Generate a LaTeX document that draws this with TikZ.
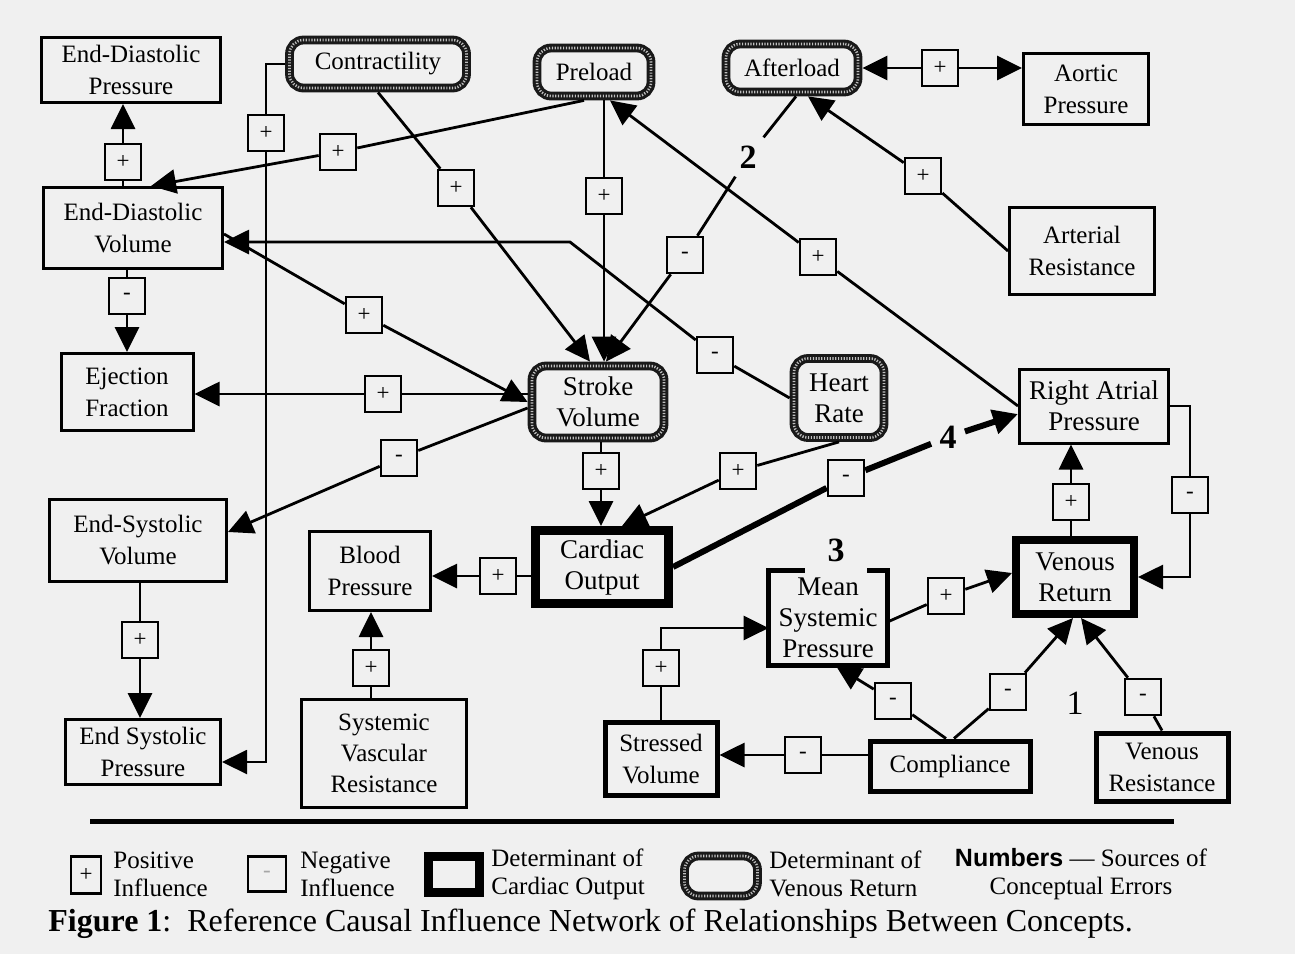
\documentclass[tikz,border=0pt]{standalone}
\usepackage{fontspec}
\setmainfont{Liberation Serif}
\setsansfont{Liberation Sans}
\usetikzlibrary{arrows.meta}

\definecolor{paper}{gray}{0.94}
\newcommand{\boxfont}{\fontsize{12.5}{16}\selectfont}
\newcommand{\palfont}{\fontsize{13.5}{15.5}\selectfont}

\tikzset{
  box/.style={draw, line width=1.5pt, align=center, inner sep=1pt, font=\boxfont},
  midbox/.style={box, line width=2.5pt},
  cobox/.style={box, line width=4.5pt, font=\palfont},
  vrbox/.style={box, rounded corners=7pt, line width=4.4pt, draw=black!90,
    postaction={draw=white!75!black, line width=1.3pt, dash pattern=on 0.6pt off 0.8pt}},
  sign/.style={draw, line width=1.3pt, fill=paper, minimum width=18pt, minimum height=18pt,
    inner sep=0pt, font=\fontsize{11.5}{11.5}\selectfont},
  link/.style={line width=1.4pt, ->},
  thinlink/.style={line width=1pt, ->},
  errlink/.style={line width=3pt, ->},
  errnum/.style={inner sep=4pt, font=\fontsize{17}{17}\selectfont\bfseries},
  legtext/.style={anchor=west, align=left, inner sep=0pt, font=\fontsize{12.5}{14}\selectfont}
}

\begin{document}
\begin{tikzpicture}[x=0.5pt, y=-0.5pt, >={Triangle[length=12.5pt,width=12pt]}]
  \fill[paper] (0,0) rectangle (1295,954);
  \useasboundingbox (0,0) rectangle (1295,954);

  % Heart side
  \node[box, minimum width=89.5pt, minimum height=32.5pt] (edp) at (131,70) {End-Diastolic\\Pressure};
  \node[box, minimum width=89.5pt, minimum height=40.5pt] (edv) at (133,228) {End-Diastolic\\Volume};
  \node[box, minimum width=66pt, minimum height=38.5pt] (ef) at (127,392) {Ejection\\Fraction};
  \node[box, minimum width=88.5pt, minimum height=41pt] (esv) at (138,540) {End-Systolic\\Volume};
  \node[box, minimum width=77.5pt, minimum height=32.5pt] (esp) at (143,752) {End Systolic\\Pressure};
  \node[box, minimum width=60.5pt, minimum height=39.5pt] (bp) at (370,571) {Blood\\Pressure};
  \node[box, minimum width=82.5pt, minimum height=54pt, font=\fontsize{12.5}{15.5}\selectfont] (svr) at (384,753) {Systemic\\Vascular\\Resistance};

  % Determinants of venous return
  \node[vrbox, minimum width=88.5pt, minimum height=24pt] (contr) at (378,64) {Contractility};
  \node[vrbox, minimum width=57pt, minimum height=24pt] (preload) at (594,72) {Preload};
  \node[vrbox, minimum width=66pt, minimum height=24pt] (aft) at (792,68) {Afterload};
  \node[vrbox, minimum width=66pt, minimum height=36pt, font=\palfont] (sv) at (598,402) {Stroke\\Volume};
  \node[vrbox, minimum width=45pt, minimum height=39.5pt, font=\palfont] (hr) at (839,398) {Heart\\Rate};

  % Arterial side
  \node[box, minimum width=62.5pt, minimum height=35.5pt] (aor) at (1086,89) {Aortic\\Pressure};
  \node[box, minimum width=72.5pt, minimum height=43.5pt] (ar) at (1082,251) {Arterial\\Resistance};
  \node[box, minimum width=74.5pt, minimum height=37pt, font=\palfont] (rap) at (1094,406) {Right Atrial\\Pressure};

  % Determinants of cardiac output
  \node[cobox, minimum width=66.5pt, minimum height=36.5pt] (co) at (602,567) {Cardiac\\Output};
  \node[cobox, line width=4pt, minimum width=59pt, minimum height=37pt] (vr) at (1075,577) {Venous\\Return};

  % Venous side
  \node[align=center, inner sep=1pt, font=\palfont, minimum width=59pt, minimum height=47.5pt] (msp) at (828,618) {Mean\\Systemic\\Pressure};
  \draw[line width=2.5pt] ([xshift=18pt]msp.north west) -- (msp.north west) -- (msp.south west)
    -- (msp.south east) -- (msp.north east) -- ([xshift=-10pt]msp.north east);
  \node[midbox, minimum width=56pt, minimum height=36.5pt] (stv) at (661,759) {Stressed\\Volume};
  \node[midbox, minimum width=80pt, minimum height=25pt] (comp) at (950,766) {Compliance};
  \node[midbox, minimum width=66pt, minimum height=34pt] (vres) at (1162,767) {Venous\\Resistance};

  % Signs
  \node[sign] (sEdvEdp) at (123,162) {+};
  \node[sign] (sEdvEf) at (127,296) {-};
  \node[sign] (sPreEdv) at (338,152) {+};
  \node[sign] (sPreSv) at (604,196) {+};
  \node[sign] (sConSv) at (456,188) {+};
  \node[sign] (sConEsp) at (266,133) {+};
  \node[sign] (sHrEdv) at (715,355) {-};
  \node[sign] (sAftSv) at (685,255) {-};
  \node[sign] (sRapPre) at (818,257) {+};
  \node[sign] (sEdvSv) at (364,315) {+};
  \node[sign] (sSvEf) at (383,394) {+};
  \node[sign] (sSvEsv) at (399,458) {-};
  \node[sign] (sSvCo) at (601,471) {+};
  \node[sign] (sHrCo) at (738,471) {+};
  \node[sign] (sCoRap) at (846,478) {-};
  \node[sign] (sAftAor) at (940,68) {+};
  \node[sign] (sArAft) at (923,176) {+};
  \node[sign] (sCoBp) at (498,576) {+};
  \node[sign] (sSvrBp) at (371,668) {+};
  \node[sign] (sEsvEsp) at (140,640) {+};
  \node[sign] (sStvMsp) at (661,668) {+};
  \node[sign] (sCompStv) at (803,755) {-};
  \node[sign] (sCompMsp) at (893,701) {-};
  \node[sign] (sCompVr) at (1008,692) {-};
  \node[sign] (sVresVr) at (1143,697) {-};
  \node[sign] (sMspVr) at (946,596) {+};
  \node[sign] (sVrRap) at (1071,502) {+};
  \node[sign] (sRapVr) at (1190,495) {-};

  % Error numbers
  \node[errnum, font=\fontsize{17}{17}\selectfont] (num1) at (1075,703) {1};
  \node[errnum] (num2) at (748,157) {2};
  \node[errnum] (num3) at (836,550) {3};
  \node[errnum] (num4) at (948,437) {4};

  % End-diastolic volume
  \draw[link] (edv.north -| sEdvEdp) -- (sEdvEdp) -- (sEdvEdp |- edp.south);
  \draw[link] (edv.south -| sEdvEf) -- (sEdvEf) -- (sEdvEf |- ef.north);
  \draw[link] ([yshift=-3pt]edv.east) -- (sEdvSv) -- (sv.west);

  % Preload and contractility
  \draw[link] ([xshift=-5pt]preload.south) -- (sPreEdv) -- ([xshift=9pt]edv.north);
  \draw[link] (preload.south -| sPreSv) -- (sPreSv) -- (sPreSv |- sv.north);
  \draw[link] (contr.south) -- (sConSv) -- ([xshift=-4pt]sv.north);
  \coordinate (espIn) at ([yshift=-5pt]esp.east);
  \draw[thinlink] (contr.west) -| (sConEsp) -- (sConEsp |- espIn) -- (espIn);

  % Heart rate
  \coordinate (hrBend) at (570,242);
  \draw[link] (hr.west) -- (sHrEdv) -- (hrBend) -- (hrBend -| edv.east);
  \draw[link] (hr.south) -- (sHrCo) -- ([xshift=10pt]co.north);

  % Afterload
  \draw[link] ([xshift=2pt]aft.south) -- (num2) -- (sAftSv) -- ([xshift=4pt]sv.north);
  \draw[link] (sAftAor) -- (aft.east);
  \draw[link] (sAftAor) -- (sAftAor -| aor.west);
  \draw[link] (ar.west) -- (sArAft) -- ([xshift=8pt]aft.south);

  % Stroke volume
  \draw[link] (sSvEf -| sv.west) -- (sSvEf) -- (sSvEf -| ef.east);
  \draw[link] ([yshift=-3pt]sv.west) -- (sSvEsv) -- ([yshift=4pt]esv.east);
  \draw[link] (sv.south -| sSvCo) -- (sSvCo) -- (sSvCo |- co.north);
  \draw[link] (esv.south -| sEsvEsp) -- (sEsvEsp) -- (sEsvEsp |- esp.north);

  % Cardiac output
  \draw[link] (sCoBp -| co.west) -- (sCoBp) -- (sCoBp -| bp.east);
  \draw[link] (svr.north -| sSvrBp) -- (sSvrBp) -- (sSvrBp |- bp.south);
  \draw[errlink] (co.east) -- (sCoRap) -- (num4) -- ([yshift=-4pt]rap.west);

  % Right atrium
  \draw[link] (rap.west) -- (sRapPre) -- ([xshift=8pt]preload.south);
  \draw[link] (vr.north -| sVrRap) -- (sVrRap) -- (sVrRap |- rap.south);
  \draw[link] (rap.east) -| (sRapVr) -- (sRapVr |- vr.east) -- (vr.east);

  % Venous side
  \coordinate (mspIn) at ([yshift=-5pt]msp.west);
  \draw[link] (stv.north -| sStvMsp) -- (sStvMsp) -- (sStvMsp |- mspIn) -- (mspIn);
  \draw[link] (sCompStv -| comp.west) -- (sCompStv) -- (sCompStv -| stv.east);
  \draw[link] ([xshift=-2pt]comp.north) -- (sCompMsp) -- ([xshift=4pt]msp.south);
  \draw[link] ([xshift=2pt]comp.north) -- (sCompVr) -- ([xshift=-1pt]vr.south);
  \draw[link] (vres.north) -- (sVresVr) -- ([xshift=3pt]vr.south);
  \draw[link] ([yshift=-2pt]msp.east) -- (sMspVr) -- ([yshift=2pt]vr.west);

  % Legend
  \draw[line width=2.5pt] (90,821) -- (1174,821);
  \node[sign, minimum width=15pt, minimum height=18.5pt] (legPos) at (86,875) {+};
  \node[legtext] (legPosText) at (113,874) {Positive\\Influence};
  \node[sign, minimum width=19pt, minimum height=17.5pt, text=black!35] (legNeg) at (267,874) {-};
  \node[legtext] (legNegText) at (300,874) {Negative\\Influence};
  \node[cobox, minimum width=25.5pt, minimum height=18pt] (legCo) at (454,874) {};
  \node[legtext] (legCoText) at (491,874) {Determinant of\\Cardiac Output};
  \node[vrbox, minimum width=36.5pt, minimum height=20pt] (legVr) at (721,876) {};
  \node[legtext] (legVrText) at (769,874) {Determinant of\\Venous Return};
  \node[legtext, anchor=center, align=center] (legNum) at (1081,874)
    {{\sffamily\bfseries Numbers} — Sources of\\Conceptual Errors};

  % Caption
  \node[anchor=west, inner sep=0pt, font=\fontsize{16}{18}\selectfont] (caption) at (48,924)
    {\textbf{Figure 1}:\ \ Reference Causal Influence Network of Relationships Between Concepts.};
\end{tikzpicture}
\end{document}
